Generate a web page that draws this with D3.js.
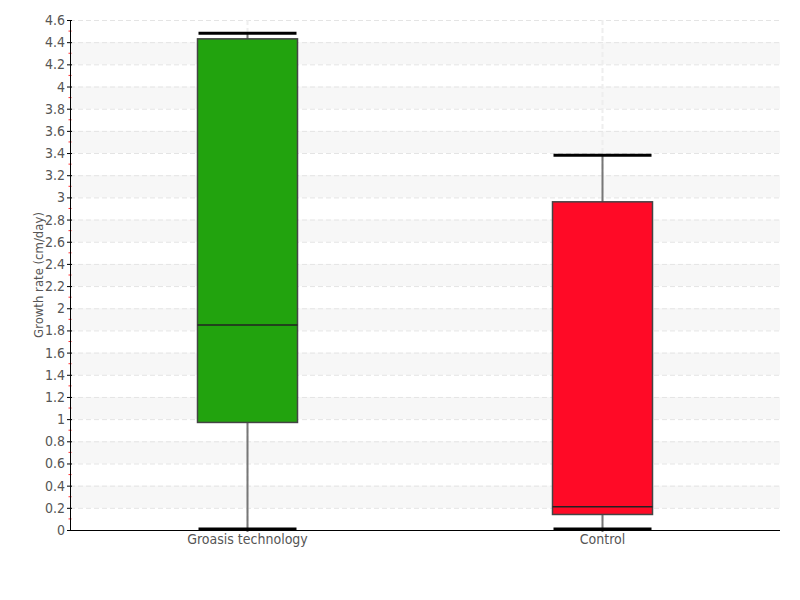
<!DOCTYPE html>
<html>
<head>
<meta charset="utf-8">
<script src="https://cdn.jsdelivr.net/npm/d3@7"></script>
<style>
  body { margin: 0; background: #fff; }
  svg text { font-family: "Liberation Sans Narrow", "DejaVu Sans Condensed", sans-serif; fill: #555; }
</style>
</head>
<body>
<svg id="chart"></svg>
<script>
const categories = ['Groasis technology', 'Control'];
const whiskerLow = [0.01, 0.01];
const quartile1 = [0.97, 0.14];
const medians = [1.85, 0.21];
const quartile3 = [4.43, 2.96];
const whiskerHigh = [4.48, 3.38];
const boxColors = ['#22a30e', '#ff0a26'];
const yTicks = [0, 0.2, 0.4, 0.6, 0.8, 1, 1.2, 1.4, 1.6, 1.8, 2, 2.2, 2.4, 2.6, 2.8, 3, 3.2, 3.4, 3.6, 3.8, 4, 4.2, 4.4, 4.6];

const w = 800; // svg width
const h = 600; // svg height
const padLeft = 70;
const padRight = 780;
const padTop = 20;
const padBottom = 530;

const svg = d3.select('#chart').attr('width', w).attr('height', h);

const xScale = d3.scaleBand().domain(categories).range([padLeft, padRight]);
const yScale = d3.scaleLinear().domain([0, 4.6]).range([padBottom, padTop]);

// alternating shaded bands
const bands = yTicks.filter((v, i) => i % 2 === 1 && v < 4.6);
svg.selectAll('rect.band')
  .data(bands)
  .enter()
  .append('rect')
  .attr('class', 'band')
  .attr('x', padLeft)
  .attr('width', padRight - padLeft)
  .attr('y', (d) => yScale(d + 0.2))
  .attr('height', (d) => yScale(d) - yScale(d + 0.2))
  .attr('fill', '#f7f7f7');

// horizontal dashed grid
svg.selectAll('line.hgrid')
  .data(yTicks.filter((v) => v > 0))
  .enter()
  .append('line')
  .attr('class', 'hgrid')
  .attr('x1', padLeft)
  .attr('x2', padRight)
  .attr('y1', (d) => yScale(d) + 0.5)
  .attr('y2', (d) => yScale(d) + 0.5)
  .attr('stroke', '#e4e4e4')
  .attr('stroke-dasharray', '5,3');

// vertical dashed grid at category centres
svg.selectAll('line.vgrid')
  .data(categories)
  .enter()
  .append('line')
  .attr('class', 'vgrid')
  .attr('x1', (d) => xScale(d) + xScale.bandwidth() / 2)
  .attr('x2', (d) => xScale(d) + xScale.bandwidth() / 2)
  .attr('y1', padTop)
  .attr('y2', padBottom)
  .attr('stroke', '#eee')
  .attr('stroke-width', 2)
  .attr('stroke-dasharray', '5,3');

const boxW = 100;
const cx = (i) => xScale(categories[i]) + xScale.bandwidth() / 2;
const idx = categories.map((c, i) => i);

const g = svg.append('g');
// whisker stems
g.selectAll('line.stem')
  .data(idx)
  .enter()
  .append('line')
  .attr('x1', cx).attr('x2', cx)
  .attr('y1', (i) => yScale(whiskerHigh[i]))
  .attr('y2', (i) => yScale(whiskerLow[i]) + 3)
  .attr('stroke', '#777')
  .attr('stroke-width', 2);

// caps
[whiskerHigh, whiskerLow].forEach((arr) => {
  g.selectAll(null)
    .data(idx)
    .enter()
    .append('line')
    .attr('x1', (i) => cx(i) - 49)
    .attr('x2', (i) => cx(i) + 49)
    .attr('y1', (i) => yScale(arr[i]))
    .attr('y2', (i) => yScale(arr[i]))
    .attr('stroke', '#000')
    .attr('stroke-width', 3);
});

// boxes
g.selectAll('rect.box')
  .data(idx)
  .enter()
  .append('rect')
  .attr('x', (i) => cx(i) - boxW / 2)
  .attr('width', boxW)
  .attr('y', (i) => yScale(quartile3[i]))
  .attr('height', (i) => yScale(quartile1[i]) - yScale(quartile3[i]))
  .attr('fill', (i) => boxColors[i])
  .attr('stroke', '#444')
  .attr('stroke-width', 1.5);

// medians
g.selectAll('line.median')
  .data(idx)
  .enter()
  .append('line')
  .attr('x1', (i) => cx(i) - boxW / 2)
  .attr('x2', (i) => cx(i) + boxW / 2)
  .attr('y1', (i) => yScale(medians[i]))
  .attr('y2', (i) => yScale(medians[i]))
  .attr('stroke', '#222')
  .attr('stroke-width', 1.5);

// minor red ticks
svg.selectAll('line.minor')
  .data(yTicks.slice(0, -1).map((v) => v + 0.1))
  .enter()
  .append('line')
  .attr('x1', padLeft - 1.5)
  .attr('x2', padLeft + 1.5)
  .attr('y1', (d) => yScale(d))
  .attr('y2', (d) => yScale(d))
  .attr('stroke', '#f33');

// y axis
const yAxis = d3.axisLeft(yScale)
  .tickValues(yTicks)
  .tickSize(3)
  .tickPadding(2)
  .tickFormat((d) => d3.format('~g')(d));
const ya = svg.append('g')
  .attr('transform', 'translate(' + padLeft + ',0)')
  .call(yAxis);
ya.select('.domain').attr('stroke', '#000').attr('d', 'M0.5,' + padTop + 'V' + padBottom);
ya.selectAll('.tick line').attr('stroke', '#000').attr('x2', 2).attr('x1', -3);
ya.selectAll('text').attr('font-size', 14).style('fill', '#555');

// x axis
const xAxis = d3.axisBottom(xScale).tickSize(0).tickPadding(4);
const xa = svg.append('g')
  .attr('transform', 'translate(0,' + padBottom + ')')
  .call(xAxis);
xa.select('.domain').attr('stroke', '#000').attr('d', 'M' + padLeft + ',0.5H' + padRight);
xa.selectAll('text').attr('font-size', 14).style('fill', '#555');

// y axis title
svg.append('text')
  .attr('transform', 'translate(43,' + (padTop + padBottom) / 2 + ') rotate(-90)')
  .attr('text-anchor', 'middle')
  .attr('font-size', 13)
  .text('Growth rate (cm/day)');
</script>
</body>
</html>
